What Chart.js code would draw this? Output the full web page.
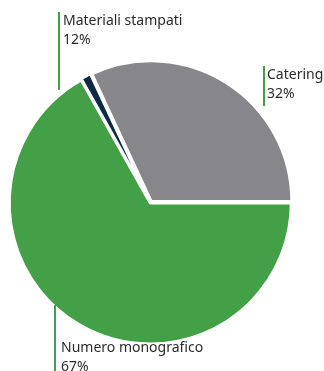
<!DOCTYPE html>
<html>
<head>
<meta charset="utf-8">
<script src="https://cdn.jsdelivr.net/npm/chart.js@4.4.1/dist/chart.umd.min.js"></script>
<style>
    html, body { margin: 0; padding: 0; background: #fff; }
    #wrap { position: relative; width: 324px; height: 371px; }
</style>
</head>
<body>
<div id="wrap"><canvas id="costChart"></canvas></div>
<script>
// voci di spesa, in senso orario partendo da destra
const categories = ['Numero monografico', 'Materiali stampati', 'Catering'];
const shares = [67, 1.2, 32];
const shareLabels = ['67%', '12%', '32%'];
const sliceColors = ['#43a047', '#0e2a47', '#87878b'];

// posizione delle didascalie con la linea verde
const callouts = [
    { index: 0, lineX: 55, lineTop: 305, lineBottom: 371, textX: 61, textY: 352 },
    { index: 1, lineX: 59, lineTop: 12, lineBottom: 90, textX: 63, textY: 25 },
    { index: 2, lineX: 264, lineTop: 66, lineBottom: 106, textX: 267, textY: 79 }
];

const calloutPlugin = {
    id: 'callouts',
    afterDraw(chart) {
        const ctx = chart.ctx;
        ctx.save();
        callouts.forEach(c => {
            ctx.strokeStyle = '#43a047';
            ctx.lineWidth = 2;
            ctx.beginPath();
            ctx.moveTo(c.lineX, c.lineTop);
            ctx.lineTo(c.lineX, c.lineBottom);
            ctx.stroke();

            ctx.fillStyle = '#2b2b2b';
            ctx.font = '14px "Noto Sans"';
            ctx.textBaseline = 'alphabetic';
            ctx.textAlign = 'left';
            ctx.fillText(chart.data.labels[c.index], c.textX, c.textY);
            ctx.fillText(shareLabels[c.index], c.textX, c.textY + 19);
        });
        ctx.restore();
    }
};

document.addEventListener('DOMContentLoaded', function () {
    const ctx = document.getElementById('costChart').getContext('2d');
    new Chart(ctx, {
        type: 'pie',
        data: {
            labels: categories,
            datasets: [{
                data: shares,
                backgroundColor: sliceColors,
                borderColor: '#ffffff',
                borderWidth: 3,
                offset: [2, 3, 5]
            }]
        },
        options: {
            responsive: true,
            maintainAspectRatio: false,
            animation: false,
            rotation: 90,
            layout: {
                padding: { left: 6, right: 29, top: 58, bottom: 24 }
            },
            plugins: {
                legend: { display: false },
                tooltip: { enabled: false }
            }
        },
        plugins: [calloutPlugin]
    });
});
</script>
</body>
</html>
